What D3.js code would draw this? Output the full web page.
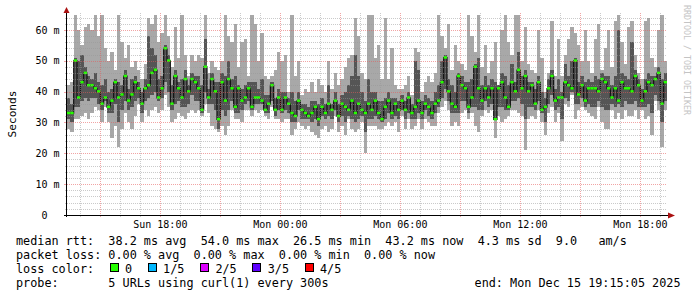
<!DOCTYPE html>
<html>
<head>
<meta charset="utf-8">
<script src="https://cdn.jsdelivr.net/npm/d3@7"></script>
<style>
  body { margin: 0; background: #fff; }
  text { font-family: "DejaVu Sans Mono", monospace; white-space: pre; }
</style>
</head>
<body>
<div id="chart"></div>
<script>
// 10 minute columns, Sun 13:20 .. Mon 19:20 (ms)
var medRtt = [
  33,33,50,38,43,46,42,42,41,40,36,38,35,37,43,38,39,45,37,39,43,41,36,41,42,46,47,38,41,54,50,36,45,41,38,44,40,
  44,43,41,34,48,38,44,40,31,43,37,44,41,35,41,37,38,41,35,38,38,37,34,36,42,34,38,34,38,36,33,32,37,34,33,32,
  33,35,31,35,33,36,34,37,32,36,35,34,37,33,36,34,33,36,34,37,33,31,35,37,33,36,34,37,34,38,33,35,37,33,36,35,
  33,36,37,43,51,40,36,35,45,42,41,35,38,48,41,37,41,38,41,31,41,43,38,35,43,40,47,41,45,40,42,36,43,34,35,41,
  45,37,38,38,43,42,41,50,39,42,37,41,41,41,40,44,43,41,38,41,37,43,41,41,40,45,42,37,40,43,42,44,46,36,43
];
var minRtt = [
  28,27,31,31,32,33,31,33,35,34,30,35,30,25,29,22,28,33,30,28,32,36,30,34,32,34,35,33,34,39,35,30,31,33,32,31,33,
  34,33,34,32,36,33,29,28,27,29,26,29,34,31,31,30,34,34,32,34,33,34,32,31,35,31,31,30,31,31,26,28,30,29,28,29,
  27,26,25,28,29,27,28,32,27,29,26,31,28,27,28,30,20,29,29,29,28,28,29,30,29,30,27,32,28,31,28,29,31,28,31,30,
  29,29,33,35,37,34,29,30,29,33,34,31,33,29,27,32,34,33,34,25,32,30,31,32,34,34,33,32,21,31,32,31,34,30,26,33,
  35,30,33,24,36,35,39,31,34,35,34,33,32,31,35,30,28,28,34,31,33,31,34,32,32,34,31,34,31,32,26,37,34,22,34
];
var lowRtt = [
  31,30,35,35,37,38,37,38,38,36,34,37,33,33,36,30,34,37,34,35,37,38,33,37,38,39,40,37,38,43,40,34,36,37,35,35,36,
  39,37,37,33,40,36,36,34,28,34,32,34,37,33,33,34,36,37,34,36,36,36,33,33,37,32,34,33,34,33,30,30,34,31,31,31,
  30,31,29,32,31,32,31,34,30,32,30,32,31,30,31,32,27,31,31,32,31,30,31,33,31,32,31,34,31,33,31,31,33,31,34,32,
  31,33,35,38,41,37,33,33,33,37,37,33,35,35,34,34,37,35,36,31,35,35,34,34,37,37,38,36,31,35,35,34,37,33,30,36,
  39,34,35,31,38,37,40,36,36,38,35,36,35,35,37,35,34,34,36,35,36,35,37,36,36,37,35,35,35,36,33,39,37,30,37
];
var highRtt = [
  38,36,51,50,52,48,45,44,46,43,42,44,40,41,44,43,42,47,41,44,45,43,40,44,58,54,52,44,45,55,52,42,47,43,44,47,42,
  46,45,45,42,57,41,46,43,43,46,45,50,44,45,42,41,42,43,43,43,41,44,39,39,43,38,41,40,40,38,40,37,40,36,36,35,
  37,37,36,38,36,42,36,40,36,39,40,42,45,52,45,40,37,44,40,40,37,37,38,40,38,38,37,39,37,40,36,50,47,37,39,38,
  37,40,42,50,52,44,42,40,46,45,43,43,44,49,51,42,45,42,44,43,42,46,45,42,49,43,53,45,47,43,43,41,45,40,38,44,
  47,41,44,40,49,45,50,51,43,45,43,44,43,45,44,46,45,45,42,45,60,46,45,44,56,47,44,41,44,46,45,45,48,44,46
];
var maxRtt = [
  42,43,65,60,55,61,62,60,65,58,65,54,50,53,47,65,56,51,55,48,50,47,44,49,64,62,65,56,59,65,58,48,61,51,65,52,45,
  52,50,52,51,65,46,50,48,47,50,65,58,56,62,48,56,57,45,65,62,50,59,45,44,45,47,53,50,52,40,65,45,50,39,41,40,
  43,40,44,42,40,50,41,46,42,44,48,51,52,64,58,46,44,65,65,51,55,44,64,44,54,42,41,41,42,45,39,54,53,40,43,45,
  43,46,65,58,54,62,47,55,50,49,47,65,58,53,65,48,55,46,50,56,42,60,65,56,52,65,65,50,61,49,47,46,60,51,40,46,
  63,45,57,45,52,57,61,59,55,50,60,50,46,57,62,47,54,60,48,63,65,56,49,61,63,52,46,44,63,64,51,48,60,65,50
];

var startTime = new Date(2025, 11, 14, 13, 20);
var endTime = new Date(2025, 11, 15, 19, 20);
var stepMinutes = 10;

var yTicks = [0, 10, 20, 30, 40, 50, 60];
var yTickLabels = ["0", "10 m", "20 m", "30 m", "40 m", "50 m", "60 m"];
var xTicks = [new Date(2025, 11, 14, 18), new Date(2025, 11, 15, 0), new Date(2025, 11, 15, 6),
              new Date(2025, 11, 15, 12), new Date(2025, 11, 15, 18)];
var xTickLabels = ["Sun 18:00", "Mon 00:00", "Mon 06:00", "Mon 12:00", "Mon 18:00"];

var legendRtt = "median rtt:  38.2 ms avg  54.0 ms max  26.5 ms min  43.2 ms now  4.3 ms sd  9.0   am/s";
var legendLoss = "packet loss: 0.00 % avg  0.00 % max  0.00 % min  0.00 % now";
var lossLabels = ["0", "1/5", "2/5", "3/5", "4/5"];
var lossColors = ["#26ff00", "#00b8ff", "#dd00ff", "#5e00ff", "#ff0000"];
var probeText = "probe:       5 URLs using curl(1) every 300s";
var endText = "end: Mon Dec 15 19:15:05 2025";

var W = 697, H = 297;
var plotL = 67, plotR = 667, plotT = 13, plotB = 215;
var charW = 7.1;

var svg = d3.select("#chart").append("svg")
  .attr("width", W).attr("height", H)
  .style("display", "block");

var x = d3.scaleTime().domain([startTime, endTime]).range([plotL, plotR]);
var y = d3.scaleLinear().domain([0, 65.5]).range([plotB, plotT]);

var cols = medRtt.map(function(m, i) {
  var t0 = d3.timeMinute.offset(startTime, i * stepMinutes);
  var t1 = d3.timeMinute.offset(startTime, (i + 1) * stepMinutes);
  return { t0: t0, t1: t1, med: m, min: minRtt[i], lo: lowRtt[i], hi: highRtt[i], max: maxRtt[i] };
});

svg.append("clipPath").attr("id", "plot")
  .append("rect").attr("x", plotL).attr("y", plotT).attr("width", plotR - plotL).attr("height", plotB - plotT);

var g = svg.append("g").attr("clip-path", "url(#plot)");

// outer smoke
g.selectAll("rect.outer").data(cols).enter().append("rect")
  .attr("class", "outer")
  .attr("x", function(d) { return x(d.t0); })
  .attr("width", function(d) { return x(d.t1) - x(d.t0); })
  .attr("y", function(d) { return y(d.max); })
  .attr("height", function(d) { return y(d.min) - y(d.max); })
  .attr("fill", "#a8a8a8")
  .attr("shape-rendering", "crispEdges");

// inner smoke
g.selectAll("rect.inner").data(cols).enter().append("rect")
  .attr("class", "inner")
  .attr("x", function(d) { return x(d.t0); })
  .attr("width", function(d) { return x(d.t1) - x(d.t0); })
  .attr("y", function(d) { return y(d.hi); })
  .attr("height", function(d) { return y(d.lo) - y(d.hi); })
  .attr("fill", "#555555")
  .attr("shape-rendering", "crispEdges");

// median step line
var stepPts = cols.map(function(d) { return [x(d.t0), y(d.med)]; });
stepPts.push([x(cols[cols.length - 1].t1), y(cols[cols.length - 1].med)]);
g.append("path")
  .attr("d", d3.line().curve(d3.curveStepAfter)(stepPts))
  .attr("fill", "none")
  .attr("stroke", "#111")
  .attr("stroke-width", 1.2);

// median markers coloured by loss (all 0 %)
g.selectAll("rect.med").data(cols).enter().append("rect")
  .attr("class", "med")
  .attr("x", function(d) { return x(d.t0); })
  .attr("width", function(d) { return x(d.t1) - x(d.t0); })
  .attr("y", function(d) { return y(d.med) - 1.5; })
  .attr("height", 2.5)
  .attr("fill", lossColors[0]);

// grid on top
var minorCol = "rgba(150,150,150,0.5)", majorCol = "rgba(230,90,90,0.55)";
var grid = svg.append("g").attr("shape-rendering", "crispEdges");

d3.range(2, 66, 2).forEach(function(v) {
  var yy = Math.round(y(v)) + 0.5;
  var major = v % 10 === 0;
  grid.append("line").attr("x1", plotL).attr("x2", plotR).attr("y1", yy).attr("y2", yy)
    .attr("stroke", major ? majorCol : minorCol).attr("stroke-dasharray", "1,1");
  grid.append("line").attr("x1", plotL - (major ? 3 : 2)).attr("x2", plotL).attr("y1", yy).attr("y2", yy)
    .attr("stroke", major ? majorCol : minorCol);
});

d3.timeHour.range(startTime, endTime).forEach(function(t) {
  var xx = Math.round(x(t)) + 0.5;
  var major = t.getHours() % 3 === 0;
  grid.append("line").attr("x1", xx).attr("x2", xx).attr("y1", plotT).attr("y2", plotB)
    .attr("stroke", major ? majorCol : minorCol).attr("stroke-dasharray", "1,1");
  grid.append("line").attr("x1", xx).attr("x2", xx).attr("y1", plotB).attr("y2", plotB + 2)
    .attr("stroke", major ? majorCol : minorCol);
});

// axes
var axis = svg.append("g");
axis.append("line").attr("x1", plotL - 0.5).attr("x2", plotL - 0.5).attr("y1", plotB + 2).attr("y2", 10)
  .attr("stroke", "#000").attr("shape-rendering", "crispEdges");
axis.append("line").attr("x1", plotL - 3).attr("x2", 669).attr("y1", plotB + 0.5).attr("y2", plotB + 0.5)
  .attr("stroke", "#000").attr("shape-rendering", "crispEdges");
axis.append("path").attr("d", "M63.5,13L69.5,13L66.5,7Z").attr("fill", "#a11");
axis.append("path").attr("d", "M668,212.5L668,218.5L675,215.5Z").attr("fill", "#a11");

axis.selectAll("text.ylab").data(yTicks).enter().append("text")
  .attr("class", "ylab")
  .attr("x", function(d, i) { return i === 0 ? 47.5 : 59.5; })
  .attr("y", function(d) { return y(d) + 3.6; })
  .attr("text-anchor", "end")
  .attr("font-size", 10)
  .attr("fill", "#000")
  .text(function(d, i) { return yTickLabels[i]; });

axis.selectAll("text.xlab").data(xTicks).enter().append("text")
  .attr("class", "xlab")
  .attr("x", function(d) { return x(d); })
  .attr("y", 228)
  .attr("text-anchor", "middle")
  .attr("font-size", 10)
  .attr("fill", "#000")
  .text(function(d, i) { return xTickLabels[i]; });

svg.append("text")
  .attr("transform", "translate(15.5," + ((plotT + plotB) / 2) + ") rotate(-90)")
  .attr("text-anchor", "middle")
  .attr("font-size", 11.2)
  .attr("fill", "#000")
  .text("Seconds");

svg.append("text")
  .attr("transform", "translate(684,5) rotate(90)")
  .attr("font-size", 8.3)
  .attr("fill", "#c4c4c4")
  .text("RRDTOOL / TOBI OETIKER");

// legend
var leg = svg.append("g").attr("font-size", 11.8).attr("fill", "#000");
leg.append("text").attr("x", 16).attr("y", 245.3).text(legendRtt);
leg.append("text").attr("x", 16).attr("y", 259.3).text(legendLoss);
leg.append("text").attr("x", 16).attr("y", 272.5).text("loss color:");
leg.append("text").attr("x", 16).attr("y", 287.3).text(probeText);
leg.append("text").attr("x", 680.5).attr("y", 287.3).attr("text-anchor", "end").text(endText);

var bx = 109.5;
lossLabels.forEach(function(lab, i) {
  leg.append("rect").attr("x", bx + 0.5).attr("y", 263.5).attr("width", 8).attr("height", 8)
    .attr("fill", lossColors[i]).attr("stroke", "#000").attr("shape-rendering", "crispEdges");
  leg.append("text").attr("x", bx + 15.5).attr("y", 272.5).text(lab);
  bx = bx + 15.5 + lab.length * charW + 15.5;
});
</script>
</body>
</html>
